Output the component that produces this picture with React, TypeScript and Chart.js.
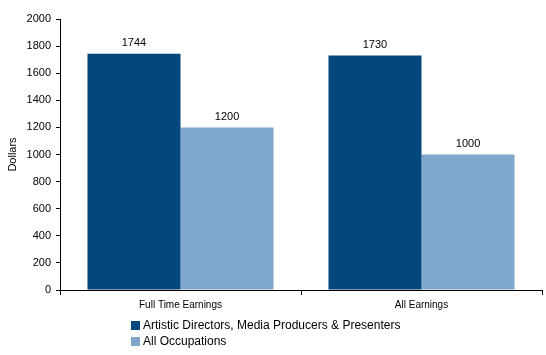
import React, { useEffect, useRef } from "react";
import { Chart, registerables } from "chart.js";

Chart.register(...registerables);

const categories = ["Full Time Earnings", "All Earnings"];
const seriesNames = ["Artistic Directors, Media Producers & Presenters", "All Occupations"];
const artisticValues = [1744, 1730];
const allOccValues = [1200, 1000];
const colors = ["#03477C", "#7FA6CB"];
const FONT = "'Liberation Sans', Arial, sans-serif";

const valueLabels = {
  id: "valueLabels",
  afterDatasetsDraw(chart: any) {
    const ctx = chart.ctx;
    ctx.save();
    ctx.font = `11px ${FONT}`;
    ctx.fillStyle = "#000";
    ctx.textAlign = "center";
    ctx.textBaseline = "bottom";
    chart.data.datasets.forEach((ds: any, i: number) => {
      const meta = chart.getDatasetMeta(i);
      meta.data.forEach((bar: any, j: number) => {
        ctx.fillText(String(ds.data[j]), bar.x, bar.y - 5);
      });
    });
    ctx.restore();
  },
};

const bottomLegend = {
  id: "bottomLegend",
  afterDraw(chart: any) {
    const ctx = chart.ctx;
    ctx.save();
    ctx.font = `12px ${FONT}`;
    ctx.textBaseline = "middle";
    ctx.textAlign = "left";
    chart.data.datasets.forEach((ds: any, i: number) => {
      const y = 325 + i * 16;
      ctx.fillStyle = ds.backgroundColor;
      ctx.fillRect(131, y - 4, 9, 9);
      ctx.fillStyle = "#000";
      ctx.fillText(ds.label, 143, y + 1);
    });
    ctx.restore();
  },
};

export default function App() {
  const ref = useRef<HTMLCanvasElement>(null);
  useEffect(() => {
    if (!ref.current) return;
    const chart = new Chart(ref.current, {
      type: "bar",
      data: {
        labels: categories,
        datasets: [
          { label: seriesNames[0], data: artisticValues, backgroundColor: colors[0] },
          { label: seriesNames[1], data: allOccValues, backgroundColor: colors[1] },
        ],
      },
      plugins: [valueLabels, bottomLegend],
      options: {
        animation: false,
        responsive: false,
        maintainAspectRatio: false,
        layout: { padding: { top: 19, right: 4, left: 0, bottom: 0 } },
        plugins: { legend: { display: false }, tooltip: { enabled: false } },
        datasets: { bar: { barPercentage: 1, categoryPercentage: 0.772 } },
        scales: {
          x: {
            grid: { drawOnChartArea: false, drawTicks: true, tickLength: 5, color: "#000", offset: true },
            border: { display: true, color: "#000" },
            ticks: { color: "#000", font: { size: 10, family: FONT }, padding: 4 },
            afterFit(scale: any) { scale.height = 65; },
          },
          y: {
            min: 0,
            max: 2000,
            ticks: {
              stepSize: 200,
              color: "#000",
              font: { size: 11, family: FONT },
              padding: 5,
              callback: (v: any) => String(v),
            },
            grid: { drawOnChartArea: false, drawTicks: true, tickLength: 4, color: "#000" },
            border: { display: true, color: "#000" },
            title: { display: true, text: "Dollars", color: "#000", font: { size: 11, family: FONT }, padding: { top: 6, bottom: 0 } },
            afterFit(scale: any) { scale.width = 60; },
          },
        },
      },
    });
    return () => chart.destroy();
  }, []);
  return (
    <div style={{ position: "absolute", left: 0, top: 0, width: 546, height: 355, background: "#fff" }}>
      <canvas ref={ref} width={546} height={355} />
    </div>
  );
}
